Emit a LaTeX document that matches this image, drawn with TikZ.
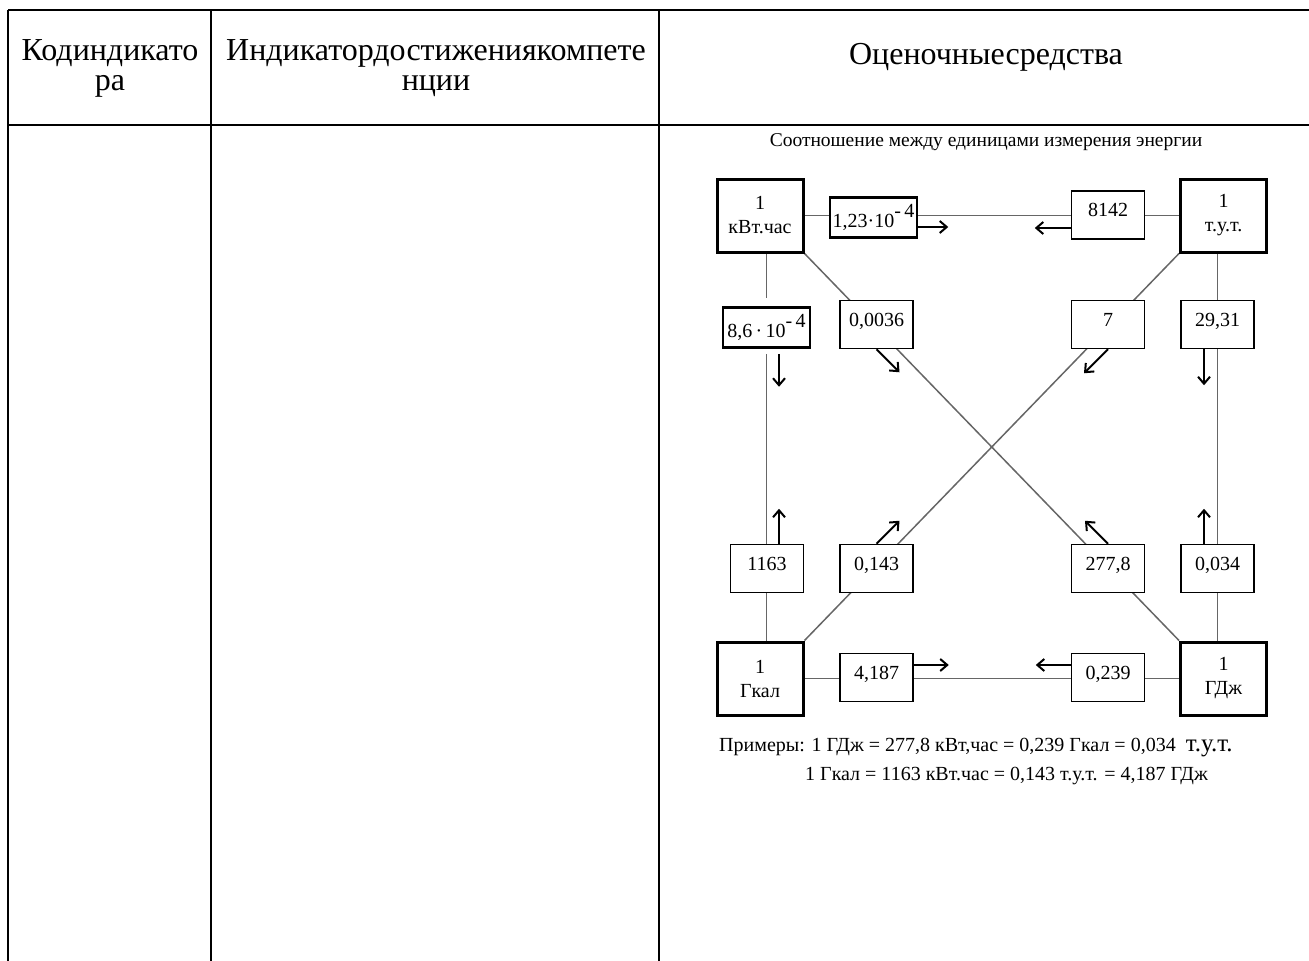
\documentclass[tikz,border=0pt]{standalone}
\usepackage{fontspec}
\setmainfont{Liberation Serif}
\usetikzlibrary{arrows.meta,backgrounds,calc}
\begin{document}
\begin{tikzpicture}[x=1pt,y=-1pt,
  tbl/.style={line width=2.5pt,black},
  hdr/.style={font=\fontsize{32}{30}\selectfont,align=center,inner sep=0},
  unitbox/.style={draw,line width=3pt,minimum width=86pt,minimum height=73pt,align=center,inner sep=0,fill=white,font=\fontsize{20}{24}\selectfont},
  valbox/.style={draw,line width=1.5pt,minimum width=73pt,minimum height=48pt,inner sep=0,fill=white,font=\fontsize{20}{22}\selectfont,text height=13.5pt,text depth=10pt},
  powbox/.style={valbox,line width=2.5pt,minimum width=87pt,minimum height=40pt,text height=20pt,text depth=0pt},
  link/.style={line width=1.5pt,draw=black!60},
  flow/.style={line width=2pt,-{Straight Barb[length=7pt,width=12pt]}},
  txt/.style={font=\fontsize{20}{22}\selectfont,inner sep=0}
]
\useasboundingbox (0,0) rectangle (1309,961);
% table
\draw[tbl] (8,10) -- (1309,10);
\draw[tbl] (8,125) -- (1309,125);
\draw[tbl] (8,10) -- (8,961);
\draw[tbl] (211,10) -- (211,961);
\draw[tbl] (659,10) -- (659,961);
\node[hdr] (h1) at (110,68) {Кодиндикато\\ра};
\node[hdr] (h2) at (436,68) {Индикатордостижениякомпете\\нции};
\node[hdr] (h3) at (986,57) {Оценочныесредства};
% diagram
\node[txt,font=\fontsize{19.5}{22}\selectfont] (title) at (986,142) {Соотношение между единицами измерения энергии};
\node[unitbox] (kwh) at (760,215.5) {1\\кВт.час};
\node[unitbox] (tut) at (1223.5,215.5) {1\\т.у.т.};
\node[unitbox] (gkal) at (760,678.5) {1\\Гкал};
\node[unitbox] (gdj) at (1223.5,678.5) {1\\ГДж};
\node[powbox] (b123) at (873.5,217.5) {1,23·10\raisebox{0.5em}{-\,4}};
\node[valbox] (b8142) at (1108,215) {8142};
\node[powbox] (b86) at (766.5,327.5) {8,6\,·\,10\raisebox{0.5em}{-\,4}};
\node[valbox] (b0036) at (876.5,324.5) {0,0036};
\node[valbox] (b7) at (1108,324.5) {7};
\node[valbox] (b2931) at (1217.5,324.5) {29,31};
\node[valbox] (b1163) at (767,568.5) {1163};
\node[valbox] (b0143) at (876.5,568.5) {0,143};
\node[valbox] (b2778) at (1108,568.5) {277,8};
\node[valbox] (b0034) at (1217.5,568.5) {0,034};
\node[valbox] (b4187) at (876.5,677.5) {4,187};
\node[valbox] (b0239) at (1108,677.5) {0,239};
\begin{scope}[on background layer]
\draw[link] (kwh.east) -- (tut.west);
\draw[link] (gkal.east) -- (gdj.west);
\draw[link] (b86 |- kwh.south) -- ([yshift=8pt]b86.north);
\draw[link] ([yshift=-5pt]b86.south) -- (b86 |- gkal.north);
\draw[link] (b2931 |- tut.south) -- (b2931 |- gdj.north);
\draw[link] (kwh.south east) -- (gdj.north west);
\draw[link] (tut.south west) -- (gkal.north east);
\end{scope}
\draw[flow] ([yshift=-9.5pt]b123.east) -- ++(30,0);
\draw[flow] ([yshift=-13pt]b8142.west) -- ++(-36,0);
\draw[flow] ([xshift=12.5pt,yshift=-5pt]b86.south) -- ++(0,33);
\draw[flow] (b0036.south) -- ++(23,23);
\draw[flow] (b7.south) -- ++(-24,24);
\draw[flow] ([xshift=-13.5pt]b2931.south) -- ++(0,36);
\draw[flow] ([xshift=12pt]b1163.north) -- ++(0,-35);
\draw[flow] (b0143.north) -- ++(23,-23);
\draw[flow] (b2778.north) -- ++(-23,-23);
\draw[flow] ([xshift=-13.5pt]b0034.north) -- ++(0,-35);
\draw[flow] ([yshift=12.5pt]b4187.east) -- ++(35,0);
\draw[flow] ([yshift=12.5pt]b0239.west) -- ++(-35,0);
\node[txt,anchor=west] (ex1) at (719,748) {Примеры: 1 ГДж = 277,8 кВт,час = 0,239 Гкал = 0,034 \ {\fontsize{25}{28}\selectfont т.у.т.}};
\node[txt,anchor=west] (ex2) at (805,776) {1 Гкал = 1163 кВт.час = 0,143 т.у.т. = 4,187 ГДж};
\end{tikzpicture}
\end{document}
